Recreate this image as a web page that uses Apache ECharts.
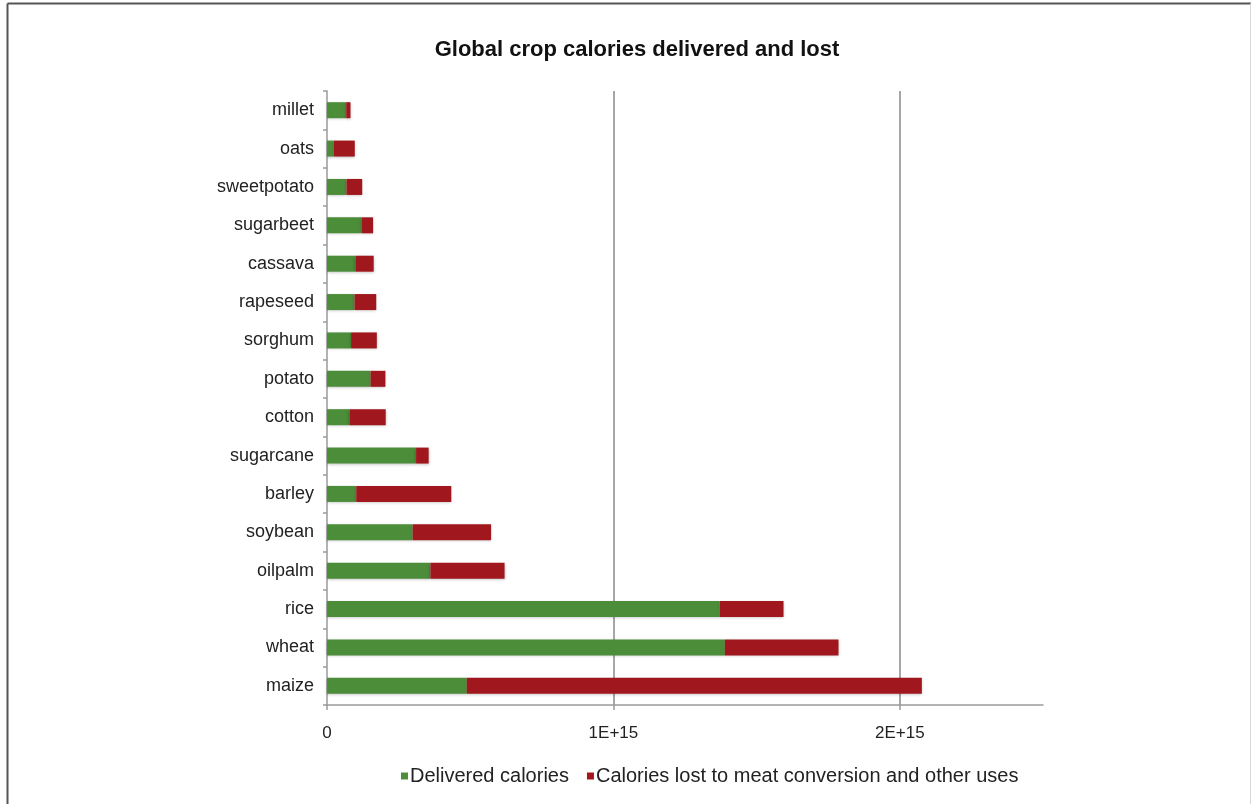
<!DOCTYPE html>
<html>
<head>
<meta charset="utf-8">
<title>Global crop calories delivered and lost</title>
<script src="https://cdn.jsdelivr.net/npm/echarts@6/dist/echarts.min.js"></script>
<style>
  html, body { margin: 0; padding: 0; background: #fff; }
  #chart { width: 1251px; height: 804px; }
</style>
</head>
<body>
<div id="chart"></div>
<script>
// Crops, listed bottom to top along the category axis
const crops = ['maize', 'wheat', 'rice', 'oilpalm', 'soybean', 'barley', 'sugarcane',
  'cotton', 'potato', 'sorghum', 'rapeseed', 'cassava', 'sugarbeet', 'sweetpotato', 'oats', 'millet'];

// Calories delivered as food (kcal per year)
const delivered = [0.488e15, 1.389e15, 1.371e15, 0.361e15, 0.299e15, 0.102e15, 0.311e15,
  0.078e15, 0.152e15, 0.084e15, 0.096e15, 0.099e15, 0.120e15, 0.068e15, 0.024e15, 0.067e15];

// Calories lost to meat conversion and other uses (kcal per year)
const lost = [1.589e15, 0.397e15, 0.223e15, 0.259e15, 0.274e15, 0.332e15, 0.044e15,
  0.127e15, 0.052e15, 0.090e15, 0.076e15, 0.064e15, 0.041e15, 0.055e15, 0.073e15, 0.015e15];

// Labelled positions on the value axis
const xTicks = [0, 1e15, 2e15];
const xTickLabels = ['0', '1E+15', '2E+15'];

const GREEN = '#4b8d39';
const RED = '#a0171d';
const FONT = 'Liberation Sans, Arial, Helvetica, sans-serif';

const chart = echarts.init(document.getElementById('chart'));

chart.setOption({
  backgroundColor: '#ffffff',
  animation: false,
  title: {
    text: 'Global crop calories delivered and lost',
    left: 632,
    textAlign: 'center',
    top: 34,
    textStyle: { fontFamily: FONT, fontSize: 22, fontWeight: 'bold', color: '#111' }
  },
  legend: {
    data: ['Delivered calories', 'Calories lost to meat conversion and other uses'],
    left: 396,
    top: 761,
    icon: 'rect',
    itemWidth: 7,
    itemHeight: 7,
    itemGap: 18,
    textStyle: { fontFamily: FONT, fontSize: 20, color: '#222', padding: [0, 0, 0, -3] }
  },
  grid: { left: 327, right: 208, top: 91, bottom: 99, containLabel: false },
  xAxis: {
    type: 'value',
    min: 0,
    max: 2.5e15,
    interval: 1e15,
    axisLine: { show: true, lineStyle: { color: '#9a9a9a', width: 1.5 } },
    axisTick: {
      show: true, length: 5, customValues: xTicks,
      lineStyle: { color: '#9a9a9a', width: 1.5 }
    },
    axisLabel: {
      customValues: xTicks,
      margin: 20,
      fontFamily: FONT, fontSize: 17, color: '#222',
      formatter: (v) => xTickLabels[xTicks.indexOf(v)] ?? ''
    },
    splitLine: { show: false }
  },
  yAxis: {
    type: 'category',
    data: crops,
    axisLine: { show: true, lineStyle: { color: '#9a9a9a', width: 1.5 } },
    axisTick: { show: true, length: 4, lineStyle: { color: '#9a9a9a', width: 1.5 } },
    axisLabel: { margin: 13, fontFamily: FONT, fontSize: 18, color: '#222' }
  },
  series: [
    {
      name: 'Delivered calories',
      type: 'bar',
      stack: 'total',
      data: delivered,
      barWidth: 16,
      itemStyle: { color: GREEN, shadowColor: 'rgba(0,0,0,0.25)', shadowBlur: 3, shadowOffsetY: 1 },
      markLine: {
        silent: true,
        symbol: 'none',
        label: { show: false },
        lineStyle: { color: '#8a8a8a', width: 1.5, type: 'solid' },
        data: [{ xAxis: 1e15 }, { xAxis: 2e15 }],
        z: 0
      },
      z: 2
    },
    {
      name: 'Calories lost to meat conversion and other uses',
      type: 'bar',
      stack: 'total',
      data: lost,
      barWidth: 16,
      itemStyle: { color: RED, shadowColor: 'rgba(0,0,0,0.25)', shadowBlur: 3, shadowOffsetY: 1 },
      z: 2
    }
  ],
  graphic: [
    { type: 'line', shape: { x1: 7.5, y1: 3.5, x2: 7.5, y2: 804 }, style: { stroke: '#555', lineWidth: 2 } },
    { type: 'line', shape: { x1: 7.5, y1: 3.5, x2: 1251, y2: 3.5 }, style: { stroke: '#555', lineWidth: 2 } },
    { type: 'line', shape: { x1: 1250.5, y1: 3.5, x2: 1250.5, y2: 804 }, style: { stroke: '#d8d8d8', lineWidth: 1 } }
  ]
});
</script>
</body>
</html>
